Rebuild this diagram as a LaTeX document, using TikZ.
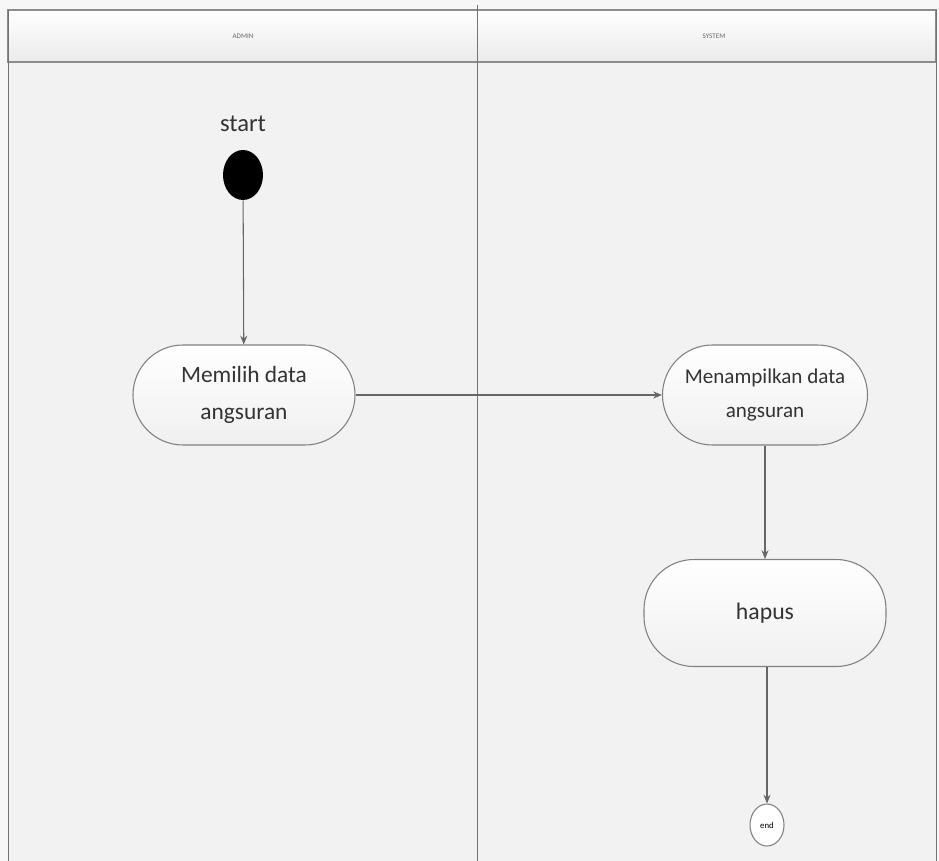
\documentclass[tikz,border=0pt]{standalone}
\usepackage{fontspec}
\setmainfont{Carlito}
\usetikzlibrary{arrows.meta,shapes.geometric}
\begin{document}
\begin{tikzpicture}[x=0.02cm,y=-0.02cm,
  lane/.style={draw=black!55, line width=0.5pt},
  header/.style={draw=black!45, line width=0.8pt, top color=white, bottom color=black!8},
  activity/.style={draw=black!50, line width=0.6pt, rounded corners=50*0.02cm,
    top color=white, bottom color=black!6, align=center, text=black!80},
  flow/.style={draw=black!60, line width=0.6pt, -{Stealth[length=5pt,width=4pt]}},
  lbl/.style={font=\fontsize{4}{5}\selectfont, text=black!60}]
\useasboundingbox (0,0) rectangle (939,861);
% page background and swimlanes
\fill[black!3] (0,0) rectangle (939,861);
\fill[black!5] (8,62) rectangle (936,861);
\shade[header] (8,10) rectangle (936,62);
\draw[lane] (8,10) -- (8,861);
\draw[lane] (936,10) -- (936,861);
\draw[lane] (477,5) -- (477,861);
\node[lbl] (adminlbl) at (243,36) {ADMIN};
\node[lbl] (systemlbl) at (714,36) {SYSTEM};
% start
\node[font=\fontsize{14}{16}\selectfont, text=black!80] (starttxt) at (243,124) {start};
\node[ellipse, fill=black, minimum width=40*0.02cm, minimum height=50*0.02cm, inner sep=0pt] (start) at (243,175) {};
% activities
\node[activity, minimum width=222*0.02cm, minimum height=100*0.02cm,
  font=\fontsize{13.3}{21}\selectfont] (pilih) at (244,395) {Memilih data\\angsuran};
\node[activity, minimum width=205*0.02cm, minimum height=100*0.02cm,
  font=\fontsize{12}{19}\selectfont] (tampil) at (765,395) {Menampilkan data\\angsuran};
\node[activity, minimum width=242*0.02cm, minimum height=107*0.02cm,
  font=\fontsize{13.5}{16}\selectfont] (hapus) at (765,613) {hapus};
% end
\node[ellipse, draw=black!50, line width=0.6pt, fill=white, minimum width=34*0.02cm,
  minimum height=42*0.02cm, inner sep=0pt, font=\fontsize{5}{6}\selectfont] (end) at (767,825) {end};
% flows
\draw[flow] (start) -- (pilih);
\draw[flow] (pilih.east) -- (tampil.west);
\draw[flow] (tampil) -- (hapus);
\draw[flow] (hapus.south -| end) -- (end);
\end{tikzpicture}
\end{document}
